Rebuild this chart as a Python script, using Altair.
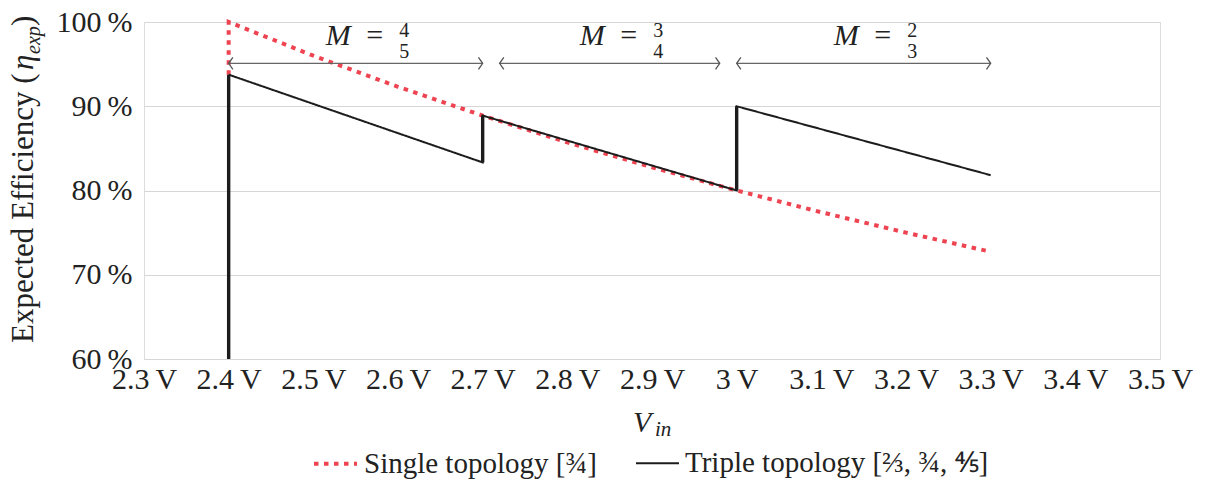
import altair as alt
import pandas as pd

# ---------------- data ----------------
single_v = [2.4, 2.4, 2.5, 2.6, 2.7, 2.8, 2.9, 3.0, 3.1, 3.2, 3.3]
single_eff = [93.75, 100.0, 96.0, 92.31, 88.89, 85.71, 82.76, 80.0, 77.42, 75.0, 72.73]

triple_v = [2.4, 2.7, 2.7, 3.0, 3.0, 3.3]
triple_eff = [93.75, 83.33, 88.89, 80.0, 90.0, 81.82]

jump_v = [2.4, 2.7, 3.0]
jump_lo = [60.0, 83.33, 80.0]
jump_hi = [93.75, 88.89, 90.0]

range_start = [2.4, 2.72, 3.0]
range_end = [2.7, 2.98, 3.3]
range_eff = [95.1, 95.1, 95.1]
range_num = ["4", "3", "2"]
range_den = ["5", "4", "3"]

x_ticks = [2.3, 2.4, 2.5, 2.6, 2.7, 2.8, 2.9, 3.0, 3.1, 3.2, 3.3, 3.4, 3.5]
y_ticks = [60, 70, 80, 90, 100]

series_names = ["Single topology [\u00be]", "Triple topology [\u2154, \u00be, \u2158]"]
series_colors = ["#ee4452", "#1c1c1c"]

FONT = "Liberation Serif"
TXT = "#222222"

# ---------------- tables ----------------
lines_df = pd.DataFrame({
    "v": single_v + triple_v,
    "eff": single_eff + triple_eff,
    "series": [series_names[0]] * len(single_v) + [series_names[1]] * len(triple_v),
    "ord": list(range(len(single_v))) + list(range(len(triple_v))),
})
jumps_df = pd.DataFrame({"v": jump_v, "lo": jump_lo, "hi": jump_hi})
ranges_df = pd.DataFrame({"s": range_start, "e": range_end, "eff": range_eff,
                          "num": range_num, "den": range_den})

W, H = 1016, 337

xscale = alt.Scale(domain=[2.3, 3.5], nice=False, zero=False)
yscale = alt.Scale(domain=[60, 100], nice=False, zero=False)

x_axis = alt.Axis(values=x_ticks, labelExpr="format(datum.value, '.1~f') + '\u2009V'",
                  grid=False, domain=False, ticks=False, tickSize=0, labelPadding=5,
                  labelFont=FONT, labelFontSize=30, labelColor=TXT, labelBaseline="top",
                  title=None, labelFlush=False, labelOverlap=False)
y_axis = alt.Axis(values=y_ticks, labelExpr="datum.value + '\u2009%'",
                  grid=True, gridColor="#d6d6d6", gridWidth=1.2, domain=False, ticks=False,
                  tickSize=0, labelPadding=12, labelFont=FONT, labelFontSize=30,
                  labelColor=TXT, title=None, labelBaseline="middle")

base_lines = alt.Chart(lines_df).mark_line(strokeCap="butt", strokeJoin="miter").encode(
    x=alt.X("v:Q", scale=xscale, axis=x_axis),
    y=alt.Y("eff:Q", scale=yscale, axis=y_axis),
    order=alt.Order("ord:Q"),
    color=alt.Color("series:N", scale=alt.Scale(domain=series_names, range=series_colors),
                    title=None,
                    legend=alt.Legend(orient="none", legendX=168, legendY=418,
                                      direction="horizontal", symbolType="stroke",
                                      symbolSize=1849, labelFont=FONT, labelFontSize=29,
                                      labelColor=TXT, labelOffset=5, columnPadding=35,
                                      labelLimit=600)),
    strokeDash=alt.StrokeDash("series:N",
                              scale=alt.Scale(domain=series_names, range=[[4.5, 5.5], [1, 0]]),
                              title=None),
    strokeWidth=alt.StrokeWidth("series:N",
                                scale=alt.Scale(type="ordinal", domain=series_names, range=[4, 2]),
                                title=None),
)

jumps = alt.Chart(jumps_df).mark_rule(color=series_colors[1], strokeWidth=3.4, strokeCap="butt").encode(
    x="v:Q", y="lo:Q", y2="hi:Q")

arrows = alt.Chart(ranges_df).mark_rule(color="#666666", strokeWidth=1.3).encode(
    x="s:Q", x2="e:Q", y="eff:Q")

head_l = alt.Chart(ranges_df).mark_point(shape="M0.7,-1L0,0L0.7,1", filled=False, size=144,
                                         color="#555555", strokeWidth=1.3, opacity=1).encode(
    x="s:Q", y="eff:Q")
head_r = alt.Chart(ranges_df).mark_point(shape="M-0.7,-1L0,0L-0.7,1", filled=False, size=144,
                                         color="#555555", strokeWidth=1.3, opacity=1).encode(
    x="e:Q", y="eff:Q")

lab_base = alt.Chart(ranges_df).transform_calculate(c="(datum.s + datum.e) / 2")
lab_m = lab_base.mark_text(font=FONT, fontSize=30, fontStyle="italic", color=TXT, align="left",
                           baseline="alphabetic", dx=-30, dy=-18).encode(
    x="c:Q", y="eff:Q", text=alt.value("M"))
lab_eq = lab_base.mark_text(font=FONT, fontSize=30, color=TXT, align="center",
                            baseline="alphabetic", dx=19, dy=-18).encode(
    x="c:Q", y="eff:Q", text=alt.value("="))
lab_num = lab_base.mark_text(font=FONT, fontSize=20, color=TXT, align="center",
                             baseline="alphabetic", dx=48.5, dy=-26).encode(
    x="c:Q", y="eff:Q", text="num:N")
lab_den = lab_base.mark_text(font=FONT, fontSize=20, color=TXT, align="center",
                             baseline="alphabetic", dx=48.5, dy=-5).encode(
    x="c:Q", y="eff:Q", text="den:N")

# axis titles (with subscripts) as text marks
def txt(s, x, y, size, style="normal", angle=0):
    return alt.Chart(pd.DataFrame({"t": [s]})).mark_text(
        font=FONT, fontSize=size, fontStyle=style, color=TXT, align="left",
        baseline="alphabetic", angle=angle).encode(
        x=alt.value(x), y=alt.value(y), text="t:N")

xt_v = txt("V", 489, 410, 30, "italic")
xt_in = txt("in", 511, 414, 21, "italic")
yt_main = txt("Expected Efficiency (", -111, 321, 31, "normal", 270)
yt_eta = txt("\u03b7", -111, 48, 31, "italic", 270)
yt_exp = txt("exp", -104, 32, 20, "italic", 270)
yt_close = txt(")", -111, 4, 31, "normal", 270)

chart = alt.layer(
    base_lines, jumps, arrows, head_l, head_r, lab_m, lab_eq, lab_num, lab_den,
    xt_v, xt_in, yt_main, yt_eta, yt_exp, yt_close
).properties(
    width=W, height=H,
    autosize=alt.AutoSizeParams(type="none"),
    padding={"left": 136, "top": 14, "right": 44, "bottom": 120},
).configure_view(stroke=None).configure(background="white")

chart.save("out.html", embed_options={"renderer": "svg", "actions": False})
